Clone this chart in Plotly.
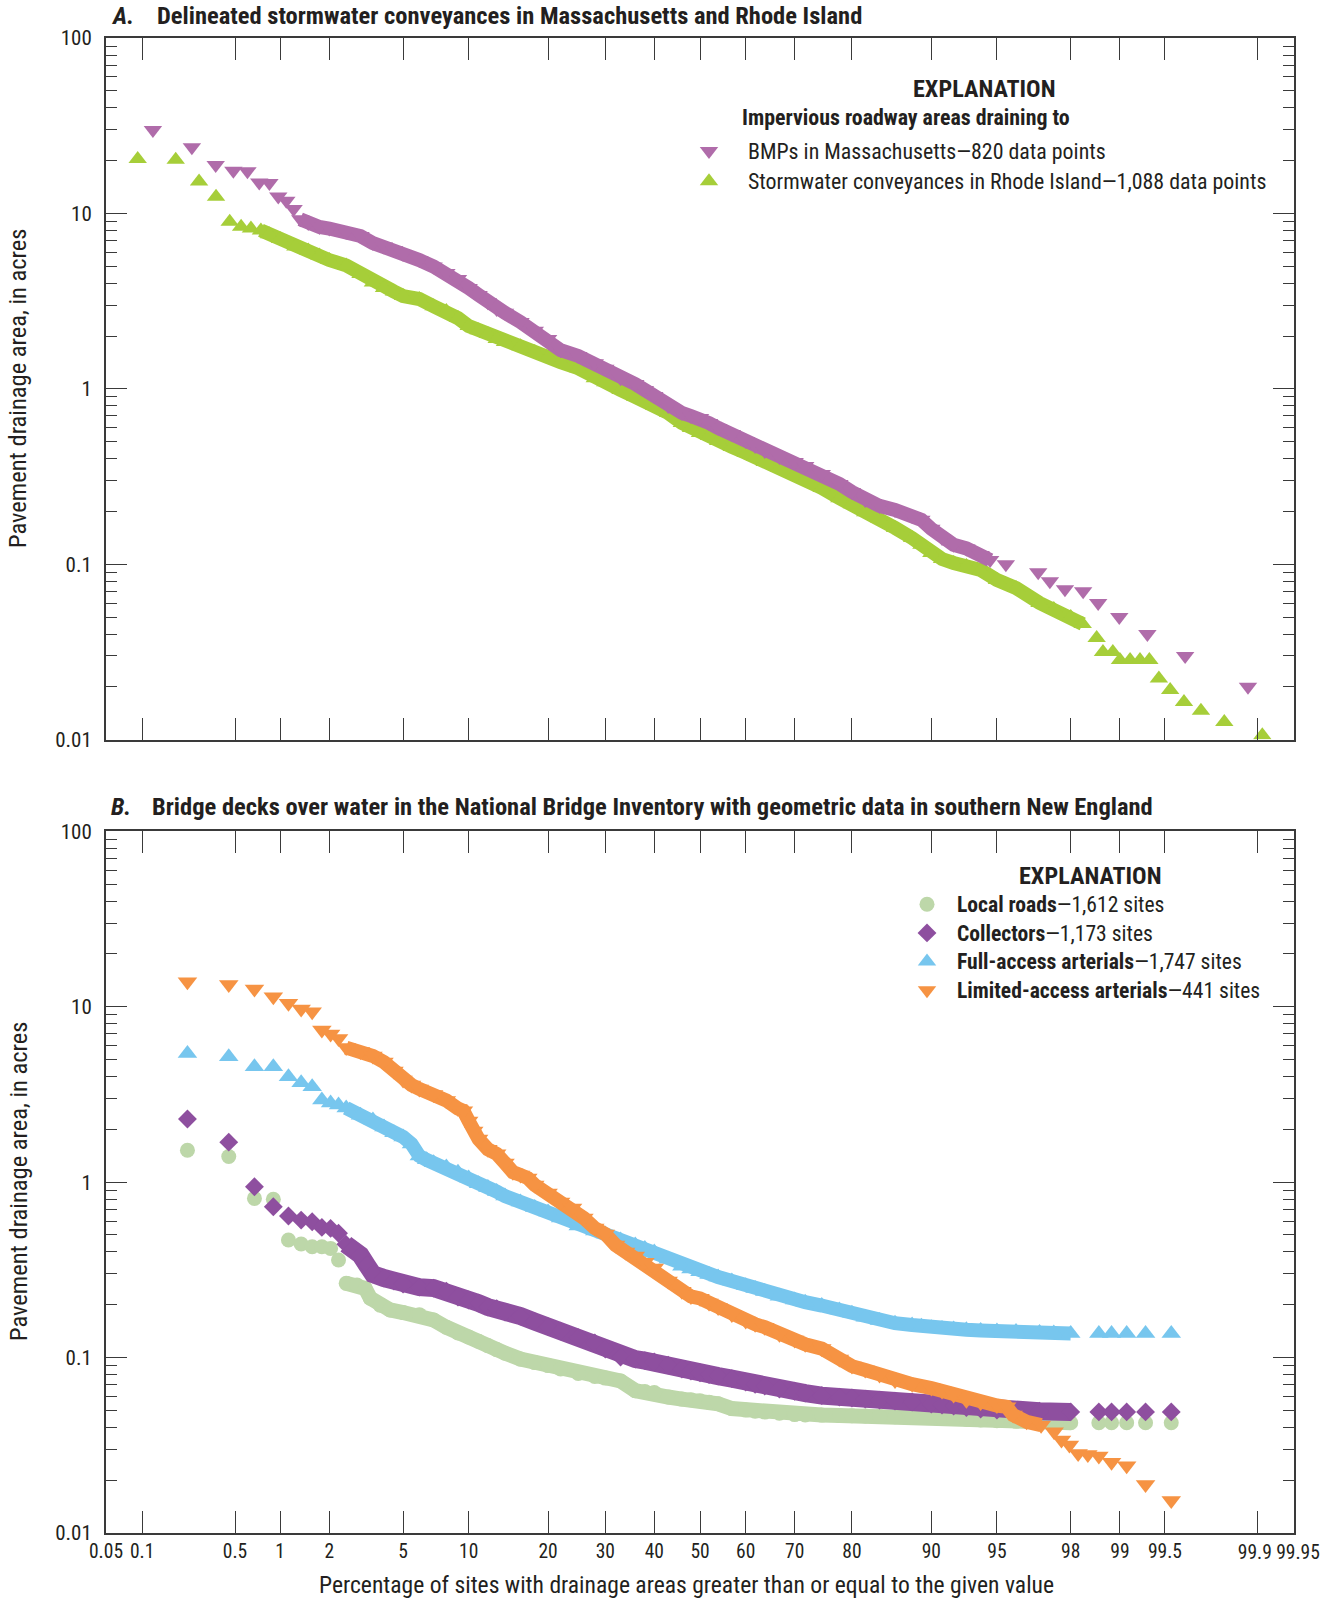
import math
import plotly.graph_objects as go

# ---------------- data (percent exceedance, drainage area in acres) ----------------
# Panel A
ma_pct = [0.122, 0.244, 0.365, 0.487, 0.609, 0.731, 0.853, 0.974, 1.096, 1.218, 1.34,
          1.5, 1.75, 2, 2.5, 3, 3.5, 4, 4.5, 5, 6, 7, 8, 9, 10, 11, 12, 13, 14,
          16, 18, 20, 22, 25, 28, 30, 33, 36, 38, 40, 43, 46, 48, 50, 52, 54, 57, 60, 62,
          64, 67, 70, 72, 75, 78, 80, 82, 84, 86, 88, 89, 90, 91, 92, 93, 94, 94.6,
          95.49, 96.95, 97.37, 97.84, 98.31, 98.63, 98.99, 99.34, 99.64, 99.88]
ma_val = [29.9, 23.8, 18.9, 17.5, 17.4, 15.0, 14.9, 12.5, 11.8, 10.6, 9.26,
          8.82, 8.37, 8.20, 7.83, 7.43, 6.78, 6.48, 6.19, 5.87, 5.42, 4.98, 4.57, 4.23, 3.76, 3.43, 3.12, 2.85, 2.71,
          2.40, 2.14, 1.92, 1.66, 1.54, 1.40, 1.30, 1.15, 1.065, 0.984, 0.910, 0.798, 0.728, 0.700, 0.682, 0.638, 0.598, 0.552, 0.504, 0.472,
          0.442, 0.409, 0.382, 0.363, 0.327, 0.287, 0.258, 0.232, 0.215, 0.204, 0.188, 0.179, 0.159, 0.141, 0.129, 0.123, 0.113, 0.1055,
          0.10, 0.09, 0.08, 0.072, 0.07, 0.06, 0.05, 0.04, 0.03, 0.02]

ri_pct = [0.092, 0.184, 0.276, 0.367, 0.459, 0.551, 0.643, 0.75, 0.85, 1,
          1.25, 1.5, 1.75, 2, 2.5, 3, 3.5, 4, 4.5, 5, 6, 7, 8, 9, 10, 11, 12, 13, 14, 16,
          18, 20, 22, 25, 28, 30, 33, 36, 38, 40, 43, 46, 48, 50, 52, 54, 57, 60, 62, 64,
          67, 70, 72, 75, 78, 80, 82, 84, 86, 88, 89, 90, 91, 92, 93, 94, 95, 96, 97, 97.5,
          98, 98.3, 98.6, 98.72, 98.89, 99.0, 99.14, 99.26, 99.36, 99.449,
          99.54, 99.633, 99.724, 99.816, 99.908]
ri_val = [20.4, 20.2, 15.2, 12.45, 8.97, 8.4, 8.2, 8.0, 7.6, 7.14,
          6.48, 6.14, 5.75, 5.42, 5.05, 4.51, 4.04, 3.76, 3.59, 3.38, 3.25, 2.96, 2.78, 2.53, 2.28, 2.16, 2.05, 1.92, 1.85, 1.75,
          1.62, 1.52, 1.42, 1.31, 1.15, 1.09, 0.984, 0.898, 0.852, 0.798, 0.728, 0.638, 0.598, 0.560, 0.538, 0.504, 0.466, 0.431, 0.409, 0.382,
          0.354, 0.327, 0.306, 0.272, 0.238, 0.220, 0.198, 0.181, 0.161, 0.141, 0.129, 0.116, 0.107, 0.1016, 0.0976, 0.0927, 0.0813, 0.0731, 0.0601, 0.0555,
          0.050, 0.0456, 0.038, 0.0316, 0.0316, 0.0284, 0.0284, 0.0284, 0.0284, 0.0223,
          0.0192, 0.0164, 0.0146, 0.0126, 0.0106]

# Panel B (all four series share the same plotting positions at the low end)
head_pct = [0.226, 0.452, 0.679, 0.905, 1.131, 1.357, 1.584, 1.810, 2.036, 2.262]

loc_pct = head_pct + [2.5, 2.87, 3.18, 3.39, 3.82, 4.3, 5, 6, 7, 8, 9, 10, 11, 12, 13, 14, 16, 18, 20, 22,
                      25, 28, 30, 33, 36, 38, 40, 43, 46, 48, 50, 52, 54, 57, 60, 62, 64, 67, 70, 72,
                      75, 78, 80, 82, 84, 86, 88, 90, 91, 92, 93, 94, 95, 96, 97, 98,
                      98.643, 98.869, 99.095, 99.321, 99.548]
loc_val = [1.52, 1.40, 0.808, 0.798, 0.468, 0.444, 0.428, 0.428, 0.419, 0.360,
           0.265, 0.259, 0.248, 0.218, 0.199, 0.187, 0.1806, 0.1757, 0.1636, 0.149,
           0.138, 0.131, 0.124, 0.117, 0.111, 0.106, 0.098, 0.0936, 0.090, 0.086,
           0.0811, 0.078, 0.0764, 0.0735, 0.0648, 0.064, 0.0632, 0.0596, 0.058, 0.0574,
           0.0567, 0.0556, 0.0545, 0.0512, 0.0502, 0.0495, 0.0489, 0.0482, 0.0473, 0.0471,
           0.0470, 0.0468, 0.0466, 0.0465, 0.0462, 0.0460, 0.0458, 0.0455, 0.0452, 0.0449,
           0.0445, 0.0441, 0.0437, 0.0433, 0.0429, 0.0425, 0.0425, 0.0425, 0.0425, 0.0425, 0.0425]

coll_pct = head_pct + [2.489, 2.715, 3, 3.25, 3.5, 4, 4.5, 5, 6, 7, 8, 9, 10, 11, 12, 13, 14, 16, 18, 20,
                       22, 25, 28, 30, 33, 36, 38, 40, 43, 46, 48, 50, 52, 54, 57, 60, 62, 64, 67, 70,
                       72, 75, 78, 80, 82, 84, 86, 88, 90, 91, 92, 93, 94, 95, 96, 97, 98,
                       98.643, 98.869, 99.095, 99.321, 99.548]
coll_val = [2.29, 1.69, 0.942, 0.724, 0.641, 0.608, 0.595, 0.552, 0.545, 0.511,
            0.443, 0.416, 0.384, 0.337, 0.299, 0.284, 0.273, 0.262, 0.252, 0.249,
            0.239, 0.221, 0.213, 0.2045, 0.194, 0.190, 0.1817, 0.1724, 0.1604, 0.150,
            0.1416, 0.130, 0.121, 0.1118, 0.1007, 0.098, 0.0961, 0.0943, 0.0906, 0.086,
            0.0837, 0.0819, 0.080, 0.0784, 0.0758, 0.0725, 0.0705, 0.0688, 0.0661, 0.0643,
            0.0627, 0.0607, 0.0595, 0.0588, 0.058, 0.0572, 0.0565, 0.0558, 0.0543, 0.0536,
            0.0529, 0.0519, 0.0509, 0.0502, 0.0497, 0.0494, 0.049, 0.049, 0.049, 0.049, 0.049, 0.049]

full_pct = head_pct + [2.5, 3, 3.5, 4, 4.5, 5, 5.5, 6, 6.5, 7, 8, 9, 10, 11, 12, 13, 14, 16, 18, 20,
                       22, 25, 28, 30, 33, 36, 38, 40, 43, 46, 48, 50, 52, 54, 57, 60, 62, 64, 67, 70,
                       72, 75, 78, 80, 82, 84, 86, 88, 89, 90, 91, 92, 93, 94, 95, 96, 97, 97.5, 98,
                       98.643, 98.869, 99.095, 99.321, 99.548]
full_val = [5.42, 5.19, 4.55, 4.55, 3.99, 3.69, 3.50, 2.94, 2.83, 2.75,
            2.65, 2.41, 2.26, 2.06, 1.91, 1.81, 1.65, 1.41, 1.34, 1.29,
            1.22, 1.14, 1.055, 0.979, 0.931, 0.884, 0.833, 0.770, 0.717, 0.676,
            0.624, 0.562, 0.526, 0.506, 0.468, 0.438, 0.418, 0.400, 0.364, 0.332,
            0.3197, 0.308, 0.2973, 0.288, 0.273, 0.257, 0.2474, 0.238, 0.224, 0.213,
            0.207, 0.198, 0.187, 0.179, 0.170, 0.1626, 0.157, 0.1532, 0.1508, 0.148,
            0.1466, 0.1454, 0.144, 0.1426, 0.1416, 0.1407, 0.139, 0.1382, 0.137,
            0.137, 0.137, 0.137, 0.137, 0.137]

lim_pct = head_pct + [2.5, 3, 3.5, 4, 4.5, 5, 5.5, 6, 7, 8, 9, 9.5, 10, 10.5, 11, 12, 13, 14, 15, 16,
                      17, 18, 20, 22, 24, 26, 28, 30, 32, 34, 36, 38, 40, 43, 46, 48, 50, 52, 54, 57,
                      60, 62, 64, 67, 70, 72, 75, 78, 80, 82, 84, 86, 88, 90, 91, 92, 93, 94, 95, 95.53,
                      95.86, 96.48, 97.06, 97.511, 97.738, 97.964, 98.190, 98.416, 98.643, 98.869,
                      99.095, 99.321, 99.548]
lim_val = [13.9, 13.4, 12.6, 11.4, 10.45, 9.70, 9.37, 7.36, 6.99, 6.60,
           5.85, 5.55, 5.24, 4.84, 4.30, 3.82, 3.58, 3.40, 3.16, 2.92,
           2.63, 2.55, 2.23, 1.96, 1.76, 1.54, 1.45, 1.285, 1.14, 1.10,
           1.055, 0.963, 0.867, 0.770, 0.712, 0.624, 0.547, 0.506, 0.438, 0.400,
           0.379, 0.350, 0.324, 0.273, 0.239, 0.223, 0.2176, 0.2045, 0.193, 0.176,
           0.1615, 0.155, 0.149, 0.136, 0.126, 0.119, 0.1125, 0.098, 0.0894, 0.0849,
           0.0795, 0.0739, 0.0706, 0.067, 0.0644, 0.0611, 0.0572, 0.0554, 0.0533, 0.0524,
           0.047, 0.043, 0.0412, 0.0378, 0.0339, 0.0317, 0.0284, 0.028, 0.0275, 0.0253,
           0.0242, 0.0189, 0.0153]

x_tick_pct = [0.05, 0.1, 0.5, 1, 2, 5, 10, 20, 30, 40, 50, 60, 70, 80, 90, 95, 98, 99, 99.5, 99.9, 99.95]
x_tick_txt = ['0.05', '0.1', '0.5', '1', '2', '5', '10', '20', '30', '40', '50', '60', '70', '80',
              '90', '95', '98', '99', '99.5', '99.9', '99.95']
y_tick_val = [0.01, 0.1, 1, 10, 100]
y_tick_txt = ['0.01', '0.1', '1', '10', '100']


# ---------------- normal-probability scale (inverse normal CDF) ----------------
def probit(pct):
    p = pct / 100.0
    a = [-3.969683028665376e+01, 2.209460984245205e+02, -2.759285104469687e+02,
         1.383577518672690e+02, -3.066479806614716e+01, 2.506628277459239e+00]
    b = [-5.447609879822406e+01, 1.615858368580409e+02, -1.556989798598866e+02,
         6.680131188771972e+01, -1.328068155288572e+01]
    c = [-7.784894002430293e-03, -3.223964580411365e-01, -2.400758277161838e+00,
         -2.549732539343734e+00, 4.374664141464968e+00, 2.938163982698783e+00]
    d = [7.784695709041462e-03, 3.224671290700398e-01, 2.445134137142996e+00,
         3.754408661907416e+00]
    plow = 0.02425
    if p < plow:
        q = math.sqrt(-2 * math.log(p))
        return (((((c[0]*q+c[1])*q+c[2])*q+c[3])*q+c[4])*q+c[5]) / ((((d[0]*q+d[1])*q+d[2])*q+d[3])*q+1)
    if p > 1 - plow:
        q = math.sqrt(-2 * math.log(1 - p))
        return -(((((c[0]*q+c[1])*q+c[2])*q+c[3])*q+c[4])*q+c[5]) / ((((d[0]*q+d[1])*q+d[2])*q+d[3])*q+1)
    q = p - 0.5
    r = q * q
    return (((((a[0]*r+a[1])*r+a[2])*r+a[3])*r+a[4])*r+a[5])*q / (((((b[0]*r+b[1])*r+b[2])*r+b[3])*r+b[4])*r+1)


def zs(lst):
    return [probit(v) for v in lst]


def band(pct, val, lo, hi):
    sel = [(p, v) for p, v in zip(pct, val) if lo <= p <= hi]
    return zs([s[0] for s in sel]), [s[1] for s in sel]


FONT = "Liberation Sans Narrow, Arial Narrow, Roboto Condensed, DejaVu Sans Condensed, Roboto, sans-serif"
TXT = "#231f20"
AX = "#3a3a3a"

W, H = 1336, 1600
L, R, T, B = 106, 42, 38, 67
PW, PH = W - L - R, H - T - B


def pxx(px):
    return (px - L) / PW


def pxy(py):
    return (H - B - py) / PH


fig = go.Figure()


def add_series(pct, val, lo, hi, band_w, xa, ya, symbol, size, color, name, leg, rank):
    # dense run of overlapping markers is drawn as a ribbon through the same read points
    bx, by = band(pct, val, lo, hi)
    fig.add_trace(go.Scatter(x=bx, y=by, mode='lines', xaxis=xa, yaxis=ya,
                             line=dict(color=color, width=band_w), showlegend=False,
                             hoverinfo='skip'))
    fig.add_trace(go.Scatter(x=zs(pct), y=val, mode='markers', xaxis=xa, yaxis=ya,
                             marker=dict(symbol=symbol, size=size, color=color, line=dict(width=0)),
                             name=name, legend=leg, legendrank=rank, hoverinfo='skip'))


TOPSPAN = '<span style="font-size:21.9px">%s</span>'
BOTSPAN = '<span style="font-size:21.6px">%s</span>'

# Panel A (green first, purple on top)
add_series(ri_pct, ri_val, 0.7, 98.35, 14, 'x2', 'y2', 'triangle-up', 16, '#a6ce39',
           TOPSPAN % 'Stormwater conveyances in Rhode Island\u20141,088 data points', 'legend', 2)
add_series(ma_pct, ma_val, 1.3, 94.7, 14, 'x2', 'y2', 'triangle-down', 16, '#b06caa',
           TOPSPAN % 'BMPs in Massachusetts\u2014820 data points', 'legend', 1)

# Panel B
add_series(loc_pct, loc_val, 2.4, 98.1, 15, 'x', 'y', 'circle', 15, '#bdd7a9',
           BOTSPAN % '<b>Local roads</b>\u20141,612 sites', 'legend2', 1)
add_series(coll_pct, coll_val, 2.4, 98.1, 18, 'x', 'y', 'diamond', 14.5, '#8e4f9f',
           BOTSPAN % '<b>Collectors</b>\u20141,173 sites', 'legend2', 2)
add_series(full_pct, full_val, 2.4, 98.1, 14, 'x', 'y', 'triangle-up', 17, '#77c6ee',
           BOTSPAN % '<b>Full-access arterials</b>\u20141,747 sites', 'legend2', 3)
add_series(lim_pct, lim_val, 2.4, 97.1, 14, 'x', 'y', 'triangle-down', 17, '#f69343',
           BOTSPAN % '<b>Limited-access arterials</b>\u2014441 sites', 'legend2', 4)

# empty traces so the two label-only overlay axes get drawn
fig.add_trace(go.Scatter(x=[], y=[], xaxis='x3', yaxis='y', showlegend=False, hoverinfo='skip'))
fig.add_trace(go.Scatter(x=[], y=[], xaxis='x4', yaxis='y', showlegend=False, hoverinfo='skip'))

x_lo = probit(0.05)
x_range = [x_lo - 1e-6, -x_lo + 1e-6]
minor_vals = [m * 10 ** e for e in range(-2, 2) for m in range(2, 10)]

# the two crowded labels at the right end are drawn by overlay axes, nudged apart
main_txt = [t if t not in ('99.9', '99.95') else '' for t in x_tick_txt]
TICKFONT = dict(family=FONT, size=19.5, color=TXT)

xcommon = dict(range=x_range, tickmode='array', tickvals=zs(x_tick_pct), ticktext=main_txt,
               ticks='inside', ticklen=22, tickwidth=1.3, tickcolor=AX, tickangle=0,
               showline=True, linecolor=AX, linewidth=2, mirror='ticks',
               showgrid=False, zeroline=False, tickfont=TICKFONT)
xlabel_only = dict(range=x_range, tickmode='array', ticks='', showline=False, showgrid=False,
                   zeroline=False, tickangle=0, tickfont=TICKFONT, overlaying='x', anchor='y',
                   side='bottom', ticklabelstandoff=5)
ycommon = dict(type='log', range=[-2, 2], tickmode='array', tickvals=y_tick_val, ticktext=y_tick_txt,
               ticks='inside', ticklen=21, tickwidth=1.3, tickcolor=AX,
               minor=dict(tickmode='array', tickvals=minor_vals, ticks='inside', ticklen=11,
                          tickwidth=1.3, tickcolor=AX, showgrid=False),
               showline=True, linecolor=AX, linewidth=2, mirror='ticks',
               showgrid=False, zeroline=False, ticklabelstandoff=8,
               tickfont=dict(family=FONT, size=21, color=TXT))

top_dom = [pxy(739.6), 1.0]
bot_dom = [0.0, pxy(831.3)]

fig.update_layout(
    width=W, height=H,
    margin=dict(l=L, r=R, t=T, b=B),
    paper_bgcolor='white', plot_bgcolor='white',
    font=dict(family=FONT, color=TXT),
    xaxis=dict(xcommon, anchor='y', domain=[0, 1], ticklabelstandoff=0),
    yaxis=dict(ycommon, anchor='x', domain=bot_dom),
    xaxis2=dict(xcommon, anchor='y2', domain=[0, 1], showticklabels=False),
    yaxis2=dict(ycommon, anchor='x2', domain=top_dom),
    xaxis3=dict(xlabel_only, tickvals=[probit(99.95)], ticktext=['99.95'], ticklabelshift=4),
    xaxis4=dict(xlabel_only, tickvals=[probit(99.9)], ticktext=['99.9'], ticklabelshift=-3),
    legend=dict(x=pxx(670), y=pxy(131), xanchor='left', yanchor='top',
                font=dict(family=FONT, size=20.9, color=TXT), itemwidth=68,
                bgcolor='rgba(0,0,0,0)', borderwidth=0, traceorder='normal'),
    legend2=dict(x=pxx(897), y=pxy(885), xanchor='left', yanchor='top',
                 font=dict(family=FONT, size=19.7, color=TXT), itemwidth=50,
                 bgcolor='rgba(0,0,0,0)', borderwidth=0, traceorder='normal'),
    showlegend=True,
)

ann = []


def add_text(text, x, y, size, xanchor='left', yanchor='middle', angle=0):
    ann.append(dict(text=text, x=x, y=y, xref='paper', yref='paper', showarrow=False,
                    xanchor=xanchor, yanchor=yanchor, textangle=angle,
                    font=dict(family=FONT, size=size, color=TXT)))


add_text('<b><i>A.</i></b>', pxx(109), pxy(16), 24.5)
add_text('<b>Delineated stormwater conveyances in Massachusetts and Rhode Island</b>', pxx(155), pxy(16), 24.5)
add_text('<b><i>B.</i></b>', pxx(109), pxy(806), 24.5)
add_text('<b>Bridge decks over water in the National Bridge Inventory with geometric data in southern New England</b>',
         pxx(150), pxy(806), 24.5)
add_text('<b>EXPLANATION</b>', pxx(984), pxy(89), 24.2, xanchor='center')
add_text('<b>Impervious roadway areas draining to</b>', pxx(740), pxy(118), 21.9)
add_text('<b>EXPLANATION</b>', pxx(1090), pxy(876), 24.2, xanchor='center')
add_text('Pavement drainage area, in acres', pxx(18), pxy(389), 24.5, xanchor='center', angle=-90)
add_text('Pavement drainage area, in acres', pxx(18), pxy(1182), 24.5, xanchor='center', angle=-90)
add_text('Percentage of sites with drainage areas greater than or equal to the given value',
         pxx(686), pxy(1585), 23.6, xanchor='center')

fig.update_layout(annotations=ann)

fig.write_html("out.html")
